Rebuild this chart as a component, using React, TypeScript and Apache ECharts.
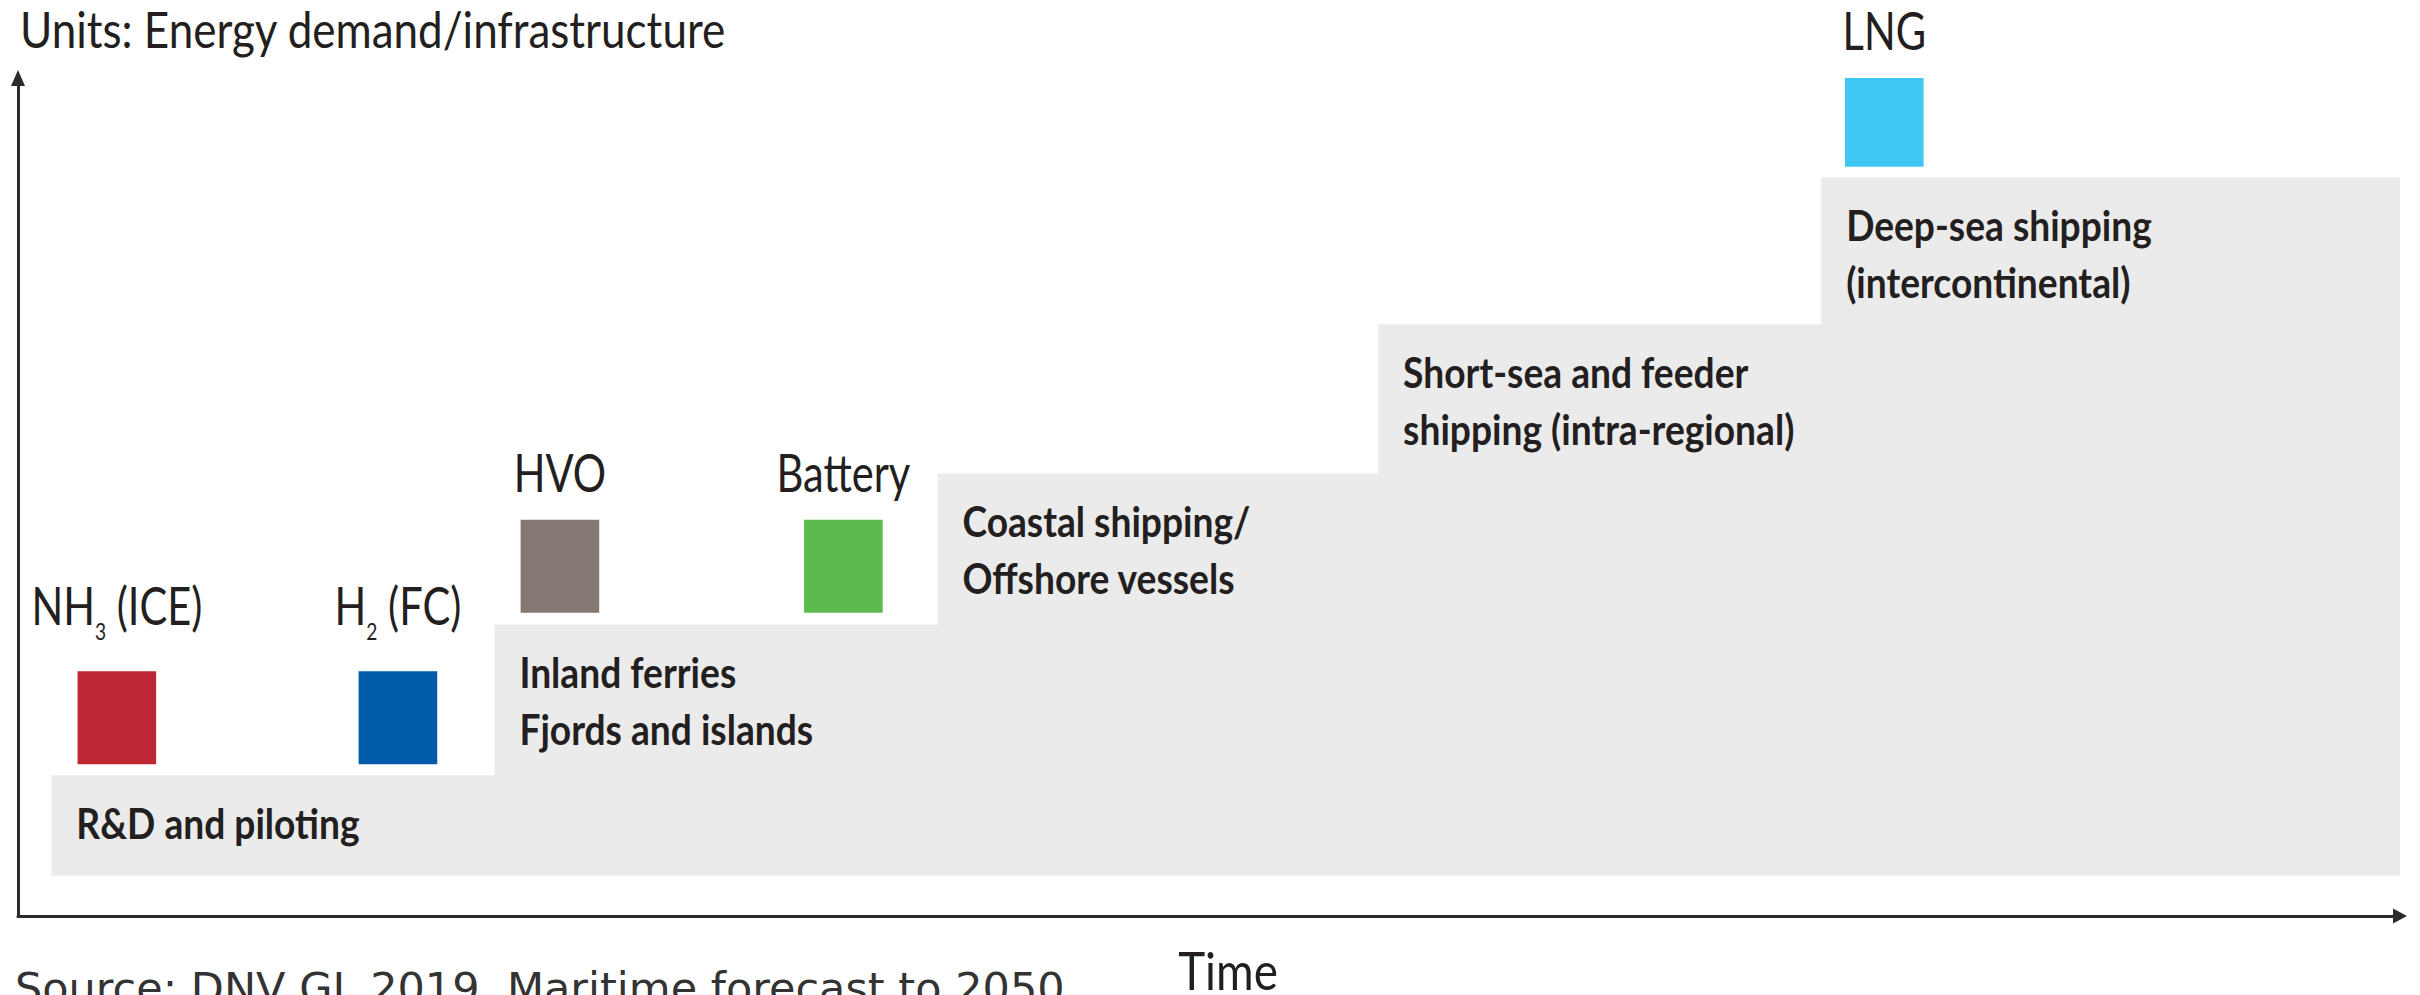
import React, { useEffect, useRef } from "react";
import * as echarts from "echarts";

// ---- data (arbitrary units: time 0..100, energy demand/infrastructure 0..100) ----
const stageNames = [
  "R&D and piloting",
  "Inland ferries\nFjords and islands",
  "Coastal shipping/\nOffshore vessels",
  "Short-sea and feeder\nshipping (intra-regional)",
  "Deep-sea shipping\n(intercontinental)",
];
const stageStart = [1.4, 20.0, 38.6, 57.1, 75.7];
const stageEnd = [20.0, 38.6, 57.1, 75.7, 100];
const stageLevel = [16.8, 34.8, 52.8, 70.6, 88.2];
const stageBase = [4.8, 4.8, 4.8, 4.8, 4.8];

const fuelNames = ["{m|NH}{sub|3}{m| (ICE)}", "{m|H}{sub|2}{m| (FC)}", "{m|HVO}", "{m|Battery}", "{m|LNG}"];
const fuelStart = [2.5, 14.3, 21.1, 33.0, 76.7];
const fuelEnd = [5.8, 17.6, 24.4, 36.3, 80.0];
const fuelLow = [18.1, 18.1, 36.2, 36.2, 89.4];
const fuelHigh = [29.2, 29.2, 47.3, 47.3, 100];
const fuelColors = ["#BE2633", "#005BAA", "#857873", "#5DBB4E", "#3FC8F4"];

const titleText = "Units: Energy demand/infrastructure";
const xName = "Time";
const sourceText = "Source: DNV GL 2019, Maritime forecast to 2050";

const FONT = "Lato, 'Open Sans', sans-serif";
const SX_REG = 0.88;
const SX_FUEL = 0.8;
const SX_BOLD = 0.885;
const INK = "#231F20";

export default function App() {
  const ref = useRef<HTMLDivElement>(null);

  useEffect(() => {
    if (!ref.current) return;
    const chart = echarts.init(ref.current, null, { renderer: "svg" });

    const stageData = stageNames.map((_, i) => [stageStart[i], stageEnd[i], stageLevel[i], stageBase[i]]);
    const fuelData = fuelNames.map((_, i) => [fuelStart[i], fuelEnd[i], fuelLow[i], fuelHigh[i]]);

    const axisCommon = {
      type: "value",
      min: 0,
      max: 100,
      axisTick: { show: false },
      axisLabel: { show: false },
      splitLine: { show: false },
    };

    const option: any = {
      animation: false,
      backgroundColor: "#ffffff",
      grid: { left: 18, top: 78, width: 2382, height: 838 },
      xAxis: {
        ...axisCommon,
        axisLine: {
          show: true,
          symbol: ["none", "triangle"],
          symbolSize: [15, 14],
          lineStyle: { color: "#2b2b2b", width: 3 },
        },
      },
      yAxis: {
        ...axisCommon,
        axisLine: {
          show: true,
          symbol: ["none", "triangle"],
          symbolSize: [14, 16],
          lineStyle: { color: "#2b2b2b", width: 3 },
        },
      },
      series: [
        {
          type: "custom",
          name: "stages",
          clip: false,
          z: 1,
          encode: { x: [0, 1], y: [2, 3] },
          data: stageData,
          renderItem: (params: any, api: any) => {
            const i = params.dataIndex;
            const tl = api.coord([api.value(0), api.value(2)]);
            const br = api.coord([api.value(1), api.value(3)]);
            const last = i === stageNames.length - 1;
            return {
              type: "group",
              children: [
                {
                  type: "rect",
                  shape: { x: tl[0], y: tl[1], width: br[0] - tl[0] + (last ? 0 : 1), height: br[1] - tl[1] },
                  style: { fill: "#EBEBEB" },
                },
                {
                  type: "text",
                  x: tl[0] + 25,
                  y: tl[1] + 19,
                  scaleX: SX_BOLD,
                  z2: 10,
                  style: {
                    text: stageNames[i],
                    fontFamily: FONT,
                    fontSize: 42,
                    fontWeight: "bold",
                    lineHeight: 57,
                    fill: INK,
                    align: "left",
                    verticalAlign: "top",
                  },
                },
              ],
            };
          },
        },
        {
          type: "custom",
          name: "fuels",
          clip: false,
          z: 2,
          encode: { x: [0, 1], y: [2, 3] },
          data: fuelData,
          renderItem: (params: any, api: any) => {
            const i = params.dataIndex;
            const tl = api.coord([api.value(0), api.value(3)]);
            const br = api.coord([api.value(1), api.value(2)]);
            return {
              type: "group",
              children: [
                {
                  type: "rect",
                  shape: { x: tl[0], y: tl[1], width: br[0] - tl[0], height: br[1] - tl[1] },
                  style: { fill: fuelColors[i] },
                },
                {
                  type: "text",
                  x: (tl[0] + br[0]) / 2,
                  y: tl[1] - 22,
                  scaleX: SX_FUEL,
                  style: {
                    text: fuelNames[i],
                    align: "center",
                    verticalAlign: "bottom",
                    rich: {
                      m: {
                        fontFamily: FONT,
                        fontSize: 52,
                        lineHeight: 52,
                        fill: INK,
                        verticalAlign: "top",
                      },
                      sub: {
                        fontFamily: FONT,
                        fontSize: 24,
                        lineHeight: 70,
                        padding: [40, 0, 0, 0],
                        fill: INK,
                        verticalAlign: "top",
                      },
                    },
                  },
                },
              ],
            };
          },
        },
      ],
      graphic: [
        {
          type: "text",
          x: 20,
          y: 28.5,
          scaleX: SX_REG,
          style: {
            text: titleText,
            fontFamily: FONT,
            fontSize: 50,
            fill: INK,
            align: "left",
            verticalAlign: "middle",
            textAlign: "left",
            textVerticalAlign: "middle",
          },
        },
        {
          type: "text",
          x: 1228,
          y: 970,
          scaleX: SX_REG,
          style: {
            text: xName,
            fontFamily: FONT,
            fontSize: 52,
            lineHeight: 44,
            fill: INK,
            align: "center",
            verticalAlign: "middle",
            textAlign: "center",
            textVerticalAlign: "middle",
          },
        },
        {
          type: "text",
          x: 15,
          y: 988,
          style: {
            text: sourceText,
            fontFamily: "'DejaVu Sans', sans-serif",
            fontSize: 43,
            fill: "#333333",
            align: "left",
            verticalAlign: "middle",
            textAlign: "left",
            textVerticalAlign: "middle",
          },
        },
      ],
    };

    chart.setOption(option);
    return () => chart.dispose();
  }, []);

  return (
    <div
      ref={ref}
      style={{ position: "absolute", left: 0, top: 0, width: 2420, height: 995, background: "#ffffff" }}
    />
  );
}
